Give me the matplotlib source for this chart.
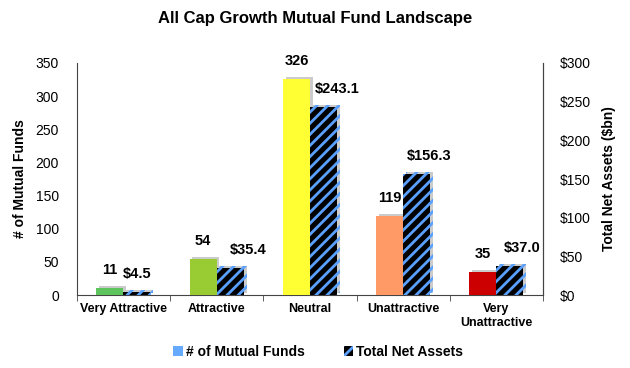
import numpy as np
import matplotlib
matplotlib.use("Agg")
import matplotlib.pyplot as plt
import matplotlib.patheffects as pe
from matplotlib.patches import Patch

plt.rcParams['font.family'] = ['Liberation Sans', 'DejaVu Sans']
plt.rcParams['hatch.linewidth'] = 2.0

# data
categories = ['Very Attractive', 'Attractive', 'Neutral', 'Unattractive', 'Very\nUnattractive']
num_funds = [11, 54, 326, 119, 35]
net_assets = [4.5, 35.4, 243.1, 156.3, 37.0]
fund_colors = ['#5ec45e', '#99cc33', '#ffff33', '#ff9966', '#cc0000']
asset_labels = ['$4.5', '$35.4', '$243.1', '$156.3', '$37.0']

fig = plt.figure(figsize=(6.3, 3.68), dpi=100)
ax = fig.add_axes([0.122, 0.198, 0.740, 0.631])
ax2 = ax.twinx()

x = np.arange(len(categories))
w = 0.29
shadow = [pe.SimplePatchShadow(offset=(2, 1.5), shadow_rgbFace='#999999', alpha=0.5), pe.Normal()]

b1 = ax.bar(x - w/2, num_funds, w, color=fund_colors, zorder=3)
b2 = ax2.bar(x + w/2, net_assets, w, facecolor='black', edgecolor='#5aa0ff',
             linewidth=0, hatch='///', zorder=3)
for b in list(b1) + list(b2):
    b.set_path_effects(shadow)

ax.set_xlim(-0.5, len(categories) - 0.5)
ax.set_ylim(0, 350)
ax2.set_ylim(0, 300)
ax.set_yticks(range(0, 351, 50))
ax2.set_yticks(range(0, 301, 50))
ax2.set_yticklabels(['$%d' % v for v in range(0, 301, 50)])

ax.set_xticks(x)
ax.set_xticklabels(categories, fontweight='bold', fontsize=9)
ax.set_xticks(np.arange(-0.5, len(categories)), minor=True)
ax.tick_params(axis='x', which='major', length=0, pad=6)
ax.tick_params(axis='x', which='minor', length=4, color='#444444')
ax.tick_params(axis='y', length=0, labelsize=10, pad=13)
ax2.tick_params(axis='y', length=0, labelsize=10, pad=12)

for a in (ax, ax2):
    a.spines['top'].set_visible(False)
    a.spines['left'].set_color('#444444')
    a.spines['right'].set_color('#444444')
    a.spines['bottom'].set_color('#444444')
ax2.spines['left'].set_visible(False)
ax2.spines['bottom'].set_visible(False)

ax.set_ylabel('# of Mutual Funds', fontweight='bold', fontsize=10, labelpad=6)
ax2.set_ylabel('Total Net Assets ($bn)', fontweight='bold', fontsize=10, labelpad=8)

# value labels
asset_dx = [0, 18, 14, 12, 12]
for i in range(len(categories)):
    ax.annotate(str(num_funds[i]), (x[i] - w/2, num_funds[i]), xytext=(0, 8),
                textcoords='offset points', ha='center', va='bottom',
                fontweight='bold', fontsize=10.5)
    ax2.annotate(asset_labels[i], (x[i] + w/2, net_assets[i]), xytext=(asset_dx[i] * 0.72, 8),
                 textcoords='offset points', ha='center', va='bottom',
                 fontweight='bold', fontsize=10.5)

fig.text(0.5, 0.95, 'All Cap Growth Mutual Fund Landscape', ha='center', va='center',
         fontweight='bold', fontsize=12)

handles = [Patch(facecolor='#66aaff', edgecolor='none'),
           Patch(facecolor='black', edgecolor='#5aa0ff', linewidth=0, hatch='///')]
fig.legend(handles, ['# of Mutual Funds', 'Total Net Assets'], loc='center',
           bbox_to_anchor=(0.505, 0.043), ncol=2, frameon=False,
           handlelength=0.7, handleheight=0.7, handletextpad=0.2, columnspacing=2.8,
           prop={'weight': 'bold', 'size': 10})

fig.savefig('out.png', dpi=100)
